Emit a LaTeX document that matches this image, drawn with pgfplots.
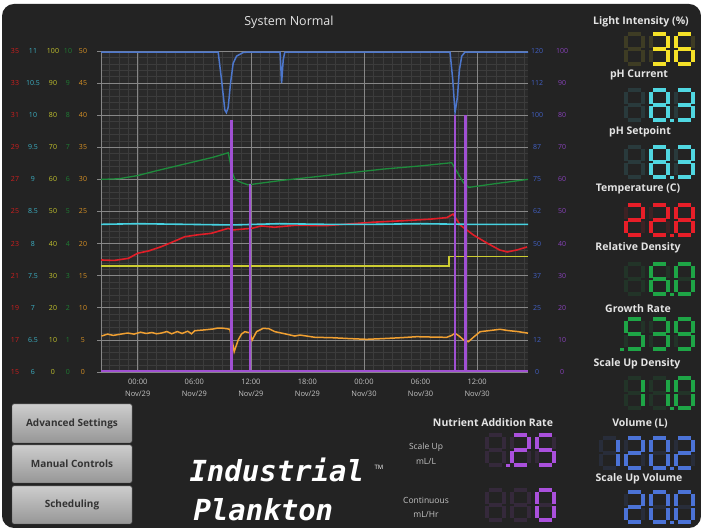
\documentclass[border=0pt]{standalone}
\usepackage{pgfplots}
\pgfplotsset{compat=1.18}
\usepackage{fontspec}
\setmainfont{Open Sans}
\newfontfamily\logofont{DejaVu Sans Mono}

\definecolor{panel}{RGB}{35,35,35}
\definecolor{plotbg}{RGB}{42,42,42}
\definecolor{gridmaj}{RGB}{135,135,135}
\definecolor{gridmin}{RGB}{60,60,60}
\definecolor{xlbl}{RGB}{195,195,195}
\definecolor{lbl}{RGB}{228,228,228}
\definecolor{cblue}{RGB}{77,119,204}
\definecolor{cpurple}{RGB}{160,80,210}
\definecolor{cgreen}{RGB}{30,140,60}
\definecolor{ccyan}{RGB}{70,210,225}
\definecolor{cred}{RGB}{225,30,40}
\definecolor{cyellow}{RGB}{205,205,50}
\definecolor{corange}{RGB}{240,160,50}
\definecolor{tred}{RGB}{205,30,30}
\definecolor{tcyan}{RGB}{60,175,195}
\definecolor{tyellow}{RGB}{195,195,45}
\definecolor{tgreen}{RGB}{30,125,50}
\definecolor{torange}{RGB}{215,145,35}
\definecolor{tblue}{RGB}{65,95,195}
\definecolor{tpurple}{RGB}{135,65,185}
% seven segment colours
\definecolor{dyel}{RGB}{245,225,40}
\definecolor{dcyan}{RGB}{80,215,225}
\definecolor{dred}{RGB}{232,30,40}
\definecolor{dgreen}{RGB}{30,165,70}
\definecolor{dblue}{RGB}{75,115,215}
\definecolor{dpurple}{RGB}{170,80,220}
\definecolor{btop}{RGB}{205,205,205}
\definecolor{bbot}{RGB}{150,150,150}

\pgfplotsset{
  plotframe/.style={at={(101pt,157pt)}, anchor=south west, scale only axis,
    width=427pt, height=321pt, xmin=-3.9, xmax=41.4},
  side/.style={plotframe, hide x axis, axis y line*=#1,
    y axis line style={draw=none}, major tick length=0pt, minor tick length=0pt,
    ytick style={draw=none},
    every tick label/.append style={font=\fontsize{7}{8}\selectfont},
    /pgf/number format/assume math mode=true},
}

% seven segment pieces (y points down in the panel scope)
\def\sga{(2.8,1.8)--(16.2,1.8)}
\def\sgb{(17.8,3.6)--(17.8,15.6)}
\def\sgc{(17.8,18.4)--(17.8,30.4)}
\def\sgd{(2.8,32.2)--(16.2,32.2)}
\def\sge{(1.2,18.4)--(1.2,30.4)}
\def\sgf{(1.2,3.6)--(1.2,15.6)}
\def\sgg{(2.8,17)--(16.2,17)}
\newcommand{\dimd}[3]{%
  \begin{scope}[shift={(#1,#2)}]
    \foreach \s in {a,b,c,d,e,f,g} {\draw[#3!13!panel, line width=3.6pt] \csname sg\s\endcsname;}
  \end{scope}}
\newcommand{\digit}[4]{%
  \dimd{#1}{#2}{#4}%
  \begin{scope}[shift={(#1,#2)}]
    \foreach \s in {#3} {\draw[#4, line width=3.6pt] \csname sg\s\endcsname;}
  \end{scope}}
\newcommand{\dotp}[3]{\fill[#3] (#1,#2+30.6) rectangle ++(3.4,3.4);}

\begin{document}
\begin{tikzpicture}
% background
\begin{scope}[x=1pt, y=-1pt, yshift=529pt]
  \fill[white] (0,0) rectangle (701,529);
  \fill[panel, rounded corners=12pt] (2,4) rectangle (701,528);
\end{scope}

% grid and time axis
\begin{axis}[plotframe, ymin=0, ymax=10,
  axis background/.style={fill=plotbg},
  axis lines*=left, axis line style={draw=gridmaj, line width=0.6pt},
  xtick={0,6,...,36},
  xticklabels={{00:00\\Nov/29},{06:00\\Nov/29},{12:00\\Nov/29},{18:00\\Nov/29},{00:00\\Nov/30},{06:00\\Nov/30},{12:00\\Nov/30}},
  xticklabel style={align=center, text=xlbl, font=\fontsize{7.5}{11.5}\selectfont},
  x tick style={draw=none},
  minor xtick={-3,-2,...,41}, xminorgrids,
  extra x ticks={0,12,24,36}, extra x tick labels={},
  extra x tick style={grid=major},
  ytick={0,...,10}, yticklabels={}, ymajorgrids, minor y tick num=4, yminorgrids,
  y tick style={draw=gridmaj, line width=0.6pt}, tick align=outside,
  major tick length=4pt, minor tick length=0pt,
  major grid style={draw=gridmaj, line width=0.6pt},
  minor grid style={draw=gridmin, line width=0.5pt},
]
\end{axis}

% orange series, 0-50
\begin{axis}[side=left, ymin=0, ymax=50, ytick={0,5,...,50},
  yticklabel style={text=torange, anchor=center, xshift=-18pt}]
\addplot[corange, line width=1.5pt] coordinates {
(-3.85,5.6)(-3.2,5.9)(-2.6,5.7)(-2.0,5.85)(-1.06,6.07)(-0.4,5.9)(0.3,6.2)(0.9,6.0)
(1.5,6.15)(2.0,5.95)(2.52,6.07)(3.1,6.3)(3.6,5.95)(4.2,6.3)(4.7,6.0)(5.3,6.35)
(5.7,5.95)(6.05,6.43)(7.0,6.55)(8.0,6.7)(8.5,6.85)(8.9,6.85)(9.4,6.75)(9.77,6.65)
(10.0,5.0)(10.23,3.16)(10.65,4.98)(11.0,5.9)(11.36,6.28)(11.89,6.1)(12.14,4.98)
(12.6,6.28)(13.3,6.8)(13.9,6.75)(14.55,6.28)(15.6,5.95)(16.67,5.6)(17.2,5.76)
(18.8,5.4)(20.5,5.35)(22.5,5.2)(24.28,5.09)(26,5.2)(28,5.35)(29.6,5.5)(31,5.45)
(32.78,5.4)(33.3,5.7)(33.66,6.03)(34.1,5.6)(34.6,4.95)(35.08,4.72)(35.6,5.4)
(36.32,6.28)(37.3,6.45)(38.44,6.65)(39.3,6.45)(40.3,6.3)(41.4,6.05)};
\end{axis}

% yellow series, light intensity 0-100
\begin{axis}[side=left, ymin=0, ymax=100, ytick={0,10,...,100},
  yticklabel style={text=tyellow, anchor=center, xshift=-48pt}]
\addplot[cyellow, line width=1.5pt] coordinates {
(-3.9,33)(33.03,33)(33.03,36)(41.4,36)};
\end{axis}

% red series, temperature 15-35
\begin{axis}[side=left, ymin=15, ymax=35, ytick={15,17,...,35},
  yticklabel style={text=tred, anchor=center, xshift=-86pt}]
\addplot[cred, line width=1.6pt] coordinates {
(-3.9,21.98)(-2.5,21.95)(-1.0,22.08)(0,22.4)(1.2,22.55)(2.5,22.81)(3.7,23.1)
(5,23.43)(6.4,23.55)(7.8,23.64)(9.6,23.95)(10.1,23.85)(12.1,23.95)(13.1,24.10)
(14.5,24.02)(16.7,24.14)(20,24.12)(24.9,24.33)(28,24.42)(31,24.52)(32.8,24.62)
(33.45,24.84)(34.2,24.16)(35.6,23.54)(37,23.05)(38.4,22.6)(39.2,22.48)(40.2,22.6)
(41.3,22.79)};
\end{axis}

% cyan series, pH 6-11
\begin{axis}[side=left, ymin=6, ymax=11, ytick={6,6.5,...,11},
  yticklabel style={text=tcyan, anchor=center, xshift=-68pt}]
\addplot[ccyan, line width=1.6pt] coordinates {
(-3.9,8.30)(0,8.31)(5,8.30)(10,8.29)(15,8.31)(20,8.30)(25,8.30)(30,8.31)(35,8.30)(41.4,8.30)};
\end{axis}

% green series, density 0-10
\begin{axis}[side=left, ymin=0, ymax=10, ytick={0,...,10},
  yticklabel style={text=tgreen, anchor=center, xshift=-33pt}]
\addplot[cgreen, line width=1.3pt] coordinates {
(-3.9,6.0)(-2,6.02)(0,6.12)(2,6.27)(4,6.41)(6,6.55)(8,6.69)(9.6,6.83)(10.0,6.24)
(10.3,6.0)(11.0,5.9)(11.7,5.83)(15.3,5.97)(18.8,6.08)(22,6.19)(26,6.32)(30,6.42)
(33.3,6.52)(34.55,5.9)(35.1,5.75)(38,5.87)(41.4,6.0)};
\end{axis}

% blue series, volume
\begin{axis}[side=right, ymin=0, ymax=125,
  ytick={0,12.5,25,37.5,50,62.5,75,87.5,100,112.5,125},
  yticklabels={0,12,25,37,50,62,75,87,100,112,120},
  yticklabel style={text=tblue, anchor=center, xshift=9pt}]
\addplot[cblue, line width=1.5pt] coordinates {
(-3.9,124.6)(8.53,124.6)(8.89,113.7)(9.24,102)(9.40,101)(9.59,103)(9.84,112.4)
(10.12,120.2)(10.48,123)(11.18,124.4)(11.8,124.6)(15.1,124.6)(15.26,112.5)
(15.43,121.5)(15.6,124.6)(33.13,124.6)(33.42,113.7)(33.66,101)(33.91,107)
(34.12,117.6)(34.37,123)(34.72,124.6)(41.4,124.6)};
\end{axis}

% purple series, nutrient additions 0-100
\begin{axis}[side=right, ymin=0, ymax=100, ytick={0,10,...,100}, clip=false,
  yticklabel style={text=tpurple, anchor=center, xshift=34pt}]
\addplot[cpurple, line width=2.4pt, line join=miter] coordinates {
(-3.9,0.3)(9.95,0.3)(9.95,78.5)(9.95,0.3)(11.89,0.3)(11.89,58.6)(11.89,0.3)
(33.66,0.3)(33.66,80)(33.66,0.3)(34.75,0.3)(34.75,80)(34.75,0.3)(41.4,0.3)};
\end{axis}

% panel texts and displays
\begin{scope}[x=1pt, y=-1pt, yshift=529pt]
  \node[text=lbl, font=\fontsize{12.5}{14}\selectfont] at (289,22) {System Normal};

  \begin{scope}[font=\bfseries\fontsize{10.5}{12}\selectfont, text=lbl]
    \node at (641,22) {Light Intensity (\%)};
    \node at (639,75) {pH Current};
    \node at (640,132) {pH Setpoint};
    \node at (638,189) {Temperature (C)};
    \node at (638,248) {Relative Density};
    \node at (638,309) {Growth Rate};
    \node at (637,364) {Scale Up Density};
    \node at (640,423) {Volume (L)};
    \node at (639,479) {Scale Up Volume};
    \node at (493,423) {Nutrient Addition Rate};
  \end{scope}

  % light intensity 36
  \dimd{625}{32}{dyel}
  \digit{650}{32}{a,b,g,c,d}{dyel}
  \digit{675}{32}{a,f,g,e,c,d}{dyel}
  % pH current 8.3
  \dimd{625}{88}{dcyan}
  \digit{650}{88}{a,b,c,d,e,f,g}{dcyan}
  \dotp{670.4}{88}{dcyan}
  \digit{675}{88}{a,b,g,c,d}{dcyan}
  % pH setpoint 8.3
  \dimd{625}{145}{dcyan}
  \digit{650}{145}{a,b,c,d,e,f,g}{dcyan}
  \dotp{670.4}{145}{dcyan}
  \digit{675}{145}{a,b,g,c,d}{dcyan}
  % temperature 22.8
  \digit{625}{203}{a,b,g,e,d}{dred}
  \digit{650}{203}{a,b,g,e,d}{dred}
  \dotp{670.4}{203}{dred}
  \digit{675}{203}{a,b,c,d,e,f,g}{dred}
  % relative density 6.0
  \dimd{625}{262}{dgreen}
  \digit{650}{262}{a,f,g,e,c,d}{dgreen}
  \dotp{670.4}{262}{dgreen}
  \digit{675}{262}{a,b,c,d,e,f}{dgreen}
  % growth rate .539
  \dotp{620.4}{317}{dgreen}
  \digit{625}{317}{a,f,g,c,d}{dgreen}
  \digit{650}{317}{a,b,g,c,d}{dgreen}
  \digit{675}{317}{a,b,c,d,f,g}{dgreen}
  % scale up density 11.0
  \digit{625}{376}{b,c}{dgreen}
  \digit{650}{376}{b,c}{dgreen}
  \dotp{670.4}{376}{dgreen}
  \digit{675}{376}{a,b,c,d,e,f}{dgreen}
  % volume 120.2
  \digit{600}{436}{b,c}{dblue}
  \digit{625}{436}{a,b,g,e,d}{dblue}
  \digit{650}{436}{a,b,c,d,e,f}{dblue}
  \dotp{670.4}{436}{dblue}
  \digit{675}{436}{a,b,g,e,d}{dblue}
  % scale up volume 20.0
  \digit{625}{490}{a,b,g,e,d}{dblue}
  \digit{650}{490}{a,b,c,d,e,f}{dblue}
  \dotp{670.4}{490}{dblue}
  \digit{675}{490}{a,b,c,d,e,f}{dblue}

  % nutrient addition rate
  \begin{scope}[font=\fontsize{8.5}{10}\selectfont, text=xlbl]
    \node at (426,447) {Scale Up};
    \node at (426,461) {mL/L};
    \node at (426,500) {Continuous};
    \node at (426,514) {mL/Hr};
  \end{scope}
  \dimd{486}{433}{dpurple}
  \dotp{506.4}{433}{dpurple}
  \digit{511}{433}{a,b,g,e,d}{dpurple}
  \digit{536}{433}{a,f,g,c,d}{dpurple}
  \dimd{486}{488}{dpurple}
  \dimd{511}{488}{dpurple}
  \digit{536}{488}{a,b,c,d,e,f}{dpurple}

  % buttons
  \foreach \yt/\yb/\t in {404/443/Advanced Settings, 445/483/Manual Controls, 486/524/Scheduling} {
    \shade[top color=btop, bottom color=bbot, draw=black!70, rounded corners=1.5pt]
      (12,\yt) rectangle (132,\yb);
    \node[text=black!80, font=\bfseries\fontsize{10}{12}\selectfont] at (72,{(\yt+\yb)/2}) {\t};
  }

  % logo
  \node[text=white, font=\logofont\bfseries\itshape\fontsize{29}{30}\selectfont, anchor=west]
    at (186,470) {Industrial};
  \node[text=white, font=\logofont\bfseries\itshape\fontsize{29}{30}\selectfont, anchor=west]
    at (190,510) {Plankton};
  \node[text=white, font=\fontsize{6}{7}\selectfont] at (379,467) {TM};
\end{scope}
\end{tikzpicture}
\end{document}
